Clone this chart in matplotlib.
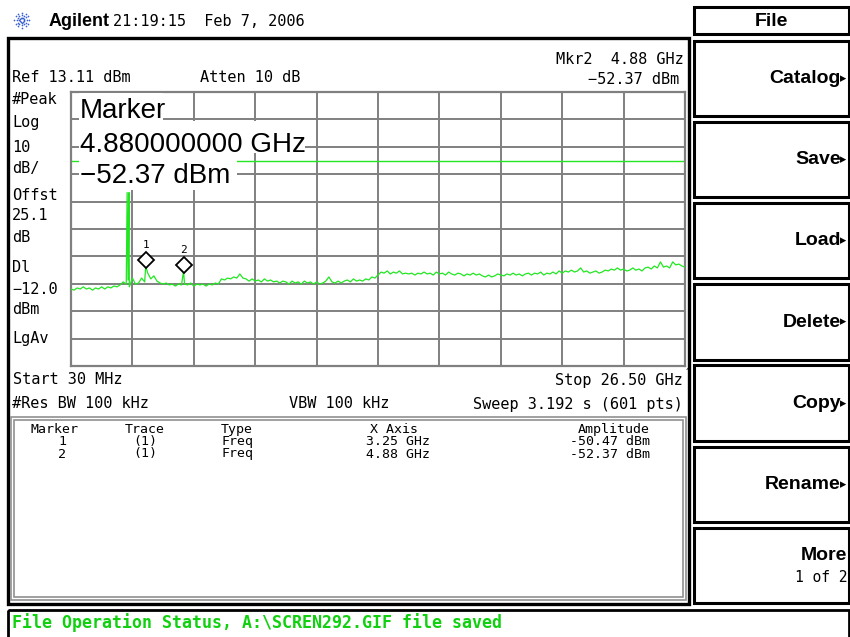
import matplotlib
matplotlib.use('Agg')
import matplotlib.pyplot as plt
import numpy as np
from matplotlib.patches import Rectangle, Polygon
from matplotlib.transforms import offset_copy

# analyzer settings
f_start, f_stop = 0.03, 26.50        # GHz
ref_level = 13.11                     # dBm
db_per_div = 10
display_line = -12.0                  # dBm

# trace (dBm), evenly spaced over the sweep
trace_dbm = [
    -58.8, -59.2, -58.4, -58.8, -58.0, -58.8, -58.4, -59.2, -58.4, -58.8,
    -58.0, -58.8, -58.0, -58.4, -57.7, -58.0, -57.3, -56.2, -57.0, -58.0,
    -54.8, -57.0, -56.6, -54.8, -56.2, -53.0, -55.1, -54.0, -55.9, -56.6,
    -57.0, -56.6, -57.3, -57.0, -57.7, -57.0, -57.3, -57.0, -57.3, -56.6,
    -57.7, -57.0, -57.3, -57.0, -57.7, -57.0, -57.3, -56.6, -57.0, -55.1,
    -55.5, -54.8, -55.1, -54.4, -54.8, -53.3, -54.8, -55.1, -55.9, -55.1,
    -55.9, -55.5, -56.2, -55.1, -55.9, -55.5, -56.2, -55.9, -56.6, -55.9,
    -56.2, -57.0, -55.9, -56.6, -56.2, -57.0, -55.9, -56.6, -56.2, -57.0,
    -56.2, -57.0, -56.6, -55.9, -54.4, -56.2, -56.6, -55.9, -56.6, -55.9,
    -55.5, -56.2, -55.1, -55.9, -55.5, -55.9, -55.1, -55.5, -54.4, -54.8,
    -53.7, -52.6, -53.0, -52.2, -53.3, -52.6, -53.0, -52.2, -53.3, -53.0,
    -53.3, -53.0, -53.7, -53.0, -53.3, -52.6, -53.3, -53.0, -53.7, -52.6,
    -53.3, -53.0, -53.7, -52.6, -53.3, -53.7, -53.0, -53.3, -54.0, -53.3,
    -53.7, -53.0, -53.7, -53.3, -54.0, -54.4, -53.7, -54.4, -54.0, -53.3,
    -53.7, -54.0, -53.3, -53.7, -53.0, -53.7, -53.3, -54.0, -53.3, -53.0,
    -53.7, -53.0, -53.3, -52.6, -53.7, -53.0, -53.3, -52.6, -53.3, -52.2,
    -53.0, -52.2, -52.6, -51.9, -52.6, -52.2, -51.1, -52.6, -52.2, -53.0,
    -52.6, -52.2, -53.0, -52.6, -51.9, -52.2, -51.5, -51.9, -51.1, -51.9,
    -51.5, -52.2, -51.9, -51.1, -51.9, -51.5, -52.2, -51.1, -50.8, -51.5,
    -50.4, -51.1, -48.9, -50.8, -50.4, -51.1, -48.9, -50.0, -49.7, -50.4,
    -50.8,
]
# narrow signals that fall between trace points
spike_freq = [2.45, 2.49, 2.53, 3.25, 4.88]
spike_dbm = [-23.6, -55.5, -23.6, -50.47, -52.37]

# marker table
marker_ids = ['1', '2']
marker_freq = [3.25, 4.88]
marker_dbm = [-50.47, -52.37]

softkeys = ['Catalog', 'Save', 'Load', 'Delete', 'Copy', 'Rename']

GREEN = '#22e622'
GRID = '#808080'
MONO = 'DejaVu Sans Mono'
SANS = 'Liberation Sans'

W, H = 850, 637


def frac(x0, y0, x1, y1):
    return [x0 / W, 1 - y1 / H, (x1 - x0) / W, (y1 - y0) / H]


fig = plt.figure(figsize=(W / 100, H / 100), dpi=100)

# ---- graticule + trace
ax = fig.add_axes(frac(71, 92, 685, 366))
ax.set_xlim(f_start, f_stop)
ax.set_ylim(ref_level - 10 * db_per_div, ref_level)
ax.set_xticks(np.linspace(f_start, f_stop, 11))
ax.set_yticks(ref_level - db_per_div * np.arange(11))
ax.tick_params(length=0, labelbottom=False, labelleft=False)
ax.grid(True, color=GRID, lw=1.4)
for s in ax.spines.values():
    s.set_color(GRID)
    s.set_linewidth(1.6)

freq = np.concatenate([np.linspace(f_start, f_stop, len(trace_dbm)), spike_freq])
amp = np.concatenate([trace_dbm, spike_dbm])
order = np.argsort(freq, kind='stable')
ax.axhline(display_line, color=GREEN, lw=1.0, zorder=2)
ax.plot(freq[order], amp[order], color=GREEN, lw=0.9, zorder=3)

up = offset_copy(ax.transData, fig=fig, x=0, y=6, units='dots')
lab = offset_copy(ax.transData, fig=fig, x=0, y=21, units='dots')
ax.plot(marker_freq, marker_dbm, 'D', ms=8, mfc='white', mec='black',
        mew=1.3, transform=up, zorder=4, clip_on=False)
for mid, mf, ma in zip(marker_ids, marker_freq, marker_dbm):
    ax.text(mf, ma, mid, transform=lab, ha='center', va='center',
            fontsize=8, family=MONO, zorder=4)

# ---- screen furniture drawn in pixel coordinates
cv = fig.add_axes([0, 0, 1, 1], zorder=5)
cv.set_xlim(0, W)
cv.set_ylim(H, 0)
cv.axis('off')
cv.patch.set_alpha(0)


def box(x0, y0, x1, y1, ec='black', lw=2.0):
    cv.add_patch(Rectangle((x0, y0), x1 - x0, y1 - y0, fill=False,
                           ec=ec, lw=lw))


def txt(x, y, s, size=11, ha='left', va='center', **kw):
    kw.setdefault('family', MONO)
    cv.text(x, y, s, fontsize=size, ha=ha, va=va, **kw)


# header
for a in np.linspace(0, 2 * np.pi, 12, endpoint=False):
    r = np.array([2.5, 5.0, 7.5])
    cv.scatter(22 + r * np.cos(a), 20 + r * np.sin(a), s=1.5, c='#3a5fd0',
               lw=0)
txt(49, 21, 'Agilent', 13, family=SANS, weight='bold')
txt(113, 21, '21:19:15  Feb 7, 2006', 11)

# main frame
box(8, 38, 689, 604, lw=2.4)

txt(12, 78, 'Ref 13.11 dBm', 11)
txt(200, 78, 'Atten 10 dB', 11)
txt(684, 60, f'Mkr2  {marker_freq[1]:.2f} GHz', 11, ha='right')
txt(679, 79, f'\u2212{abs(marker_dbm[1]):.2f} dBm', 11, ha='right')

left_labels = [('#Peak', 100), ('Log', 123), ('10', 147), ('dB/', 168),
               ('Offst', 195), ('25.1', 215), ('dB', 237), ('Dl', 267),
               ('\u221212.0', 290), ('dBm', 310), ('LgAv', 338)]
for s, y in left_labels:
    txt(12, y, s, 11)

# active marker readout (white block hides the graticule)
cv.add_patch(Polygon([(79, 93), (163, 93), (163, 121), (305, 121),
                      (305, 153), (237, 153), (237, 190), (79, 190)],
                     closed=True, fc='white', ec='none'))
txt(80, 118, 'Marker', 20, va='baseline', family=SANS)
txt(80, 151.5, f'{marker_freq[1]:.9f} GHz', 20, va='baseline', family=SANS)
txt(80, 183, f'\u2212{abs(marker_dbm[1]):.2f} dBm', 20, va='baseline',
    family=SANS)

txt(13, 380, 'Start 30 MHz', 11)
txt(683, 380, 'Stop 26.50 GHz', 11, ha='right')
txt(686, 372, '^', 6)
txt(12, 404, '#Res BW 100 kHz', 11)
txt(289, 404, 'VBW 100 kHz', 11)
txt(683, 404, 'Sweep 3.192 s (601 pts)', 11, ha='right')

# marker table
box(11, 417, 686, 600, ec='#909090', lw=1.2)
box(14, 420, 683, 597, ec='#909090', lw=1.2)
ty = 433
bl = dict(va='baseline')
txt(55, ty, 'Marker', 9.5, ha='center', **bl)
txt(145, ty, 'Trace', 9.5, ha='center', **bl)
txt(221, ty, 'Type', 9.5, **bl)
txt(370, ty, 'X Axis', 9.5, **bl)
txt(650, ty, 'Amplitude', 9.5, ha='right', **bl)
for k, (mid, mf, ma) in enumerate(zip(marker_ids, marker_freq, marker_dbm)):
    y = 445 + 12.5 * k
    txt(62, y, mid, 9.5, ha='center', **bl)
    txt(145, y, '(1)', 9.5, ha='center', **bl)
    txt(222, y, 'Freq', 9.5, **bl)
    txt(366, y, f'{mf:.2f} GHz', 9.5, **bl)
    txt(650, y, f'{ma:.2f} dBm', 9.5, ha='right', **bl)

# softkey panel
box(694, 7, 849, 34, lw=2.2)
txt(771, 21, 'File', 14, ha='center', family=SANS, weight='bold')
tops = [40.5, 121.7, 202.9, 284.1, 365.3, 446.5, 527.7]
for k, top in enumerate(tops):
    box(694, top, 849, top + 75.5, lw=2.2)
    if k < len(softkeys):
        yc = top + 38
        txt(841, yc, softkeys[k], 14, ha='right', family=SANS, weight='bold')
        txt(840, yc, '\u25b8', 9, family='DejaVu Sans')
txt(847, 555, 'More', 14, ha='right', family=SANS, weight='bold')
txt(848, 577, '1 of 2', 10.5, ha='right')

# status line
box(8, 610, 849, 645, lw=2.0)
txt(12, 623, 'File Operation Status, A:\\SCREN292.GIF file saved', 12,
    color='#10d010', weight='bold')

fig.savefig('out.png', dpi=100)
plt.close(fig)
